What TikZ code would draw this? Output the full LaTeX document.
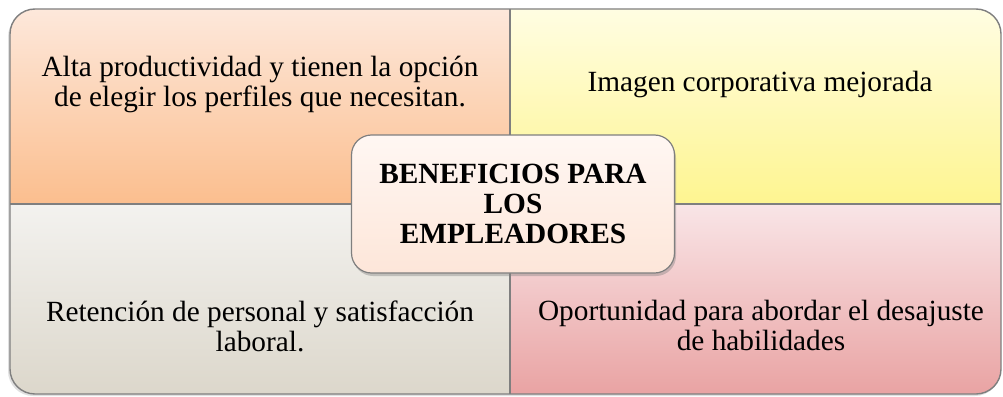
\documentclass[tikz,border=0pt]{standalone}
\usepackage{fontspec}
\setmainfont{Liberation Serif}
\usetikzlibrary{shadows}
\definecolor{tlT}{HTML}{FDE8DB}
\definecolor{tlB}{HTML}{FBBE8E}
\definecolor{trT}{HTML}{FFFDE2}
\definecolor{trB}{HTML}{FEF590}
\definecolor{blT}{HTML}{F3F2EF}
\definecolor{blB}{HTML}{DCD7CB}
\definecolor{brT}{HTML}{F9E5E7}
\definecolor{brB}{HTML}{E9A3A3}
\definecolor{hubT}{HTML}{FFF7F3}
\definecolor{hubB}{HTML}{FDE6D9}
\definecolor{edge}{HTML}{7F7F7F}
\begin{document}
\begin{tikzpicture}[x=1pt,y=-1pt,
  txt/.style={font=\fontsize{29.3}{30}\selectfont, align=center, inner sep=0pt, anchor=base},
  border/.style={draw=edge, line width=1.4pt}]
\useasboundingbox (0,0) rectangle (1003,396);
% outer shadow
\fill[black, opacity=0.12, rounded corners=25pt] (8,12) rectangle (1000,396);
\begin{scope}
  \clip[rounded corners=25pt] (10,9) rectangle (1001,394);
  \shade[top color=tlT, bottom color=tlB] (10,9) rectangle (510,204);
  \shade[top color=trT, bottom color=trB] (510,9) rectangle (1001,204);
  \shade[top color=blT, bottom color=blB] (10,204) rectangle (510,394);
  \shade[top color=brT, bottom color=brB] (510,204) rectangle (1001,394);
\end{scope}
\draw[border, rounded corners=25pt] (10,9) rectangle (1001,394);
\draw[border] (510,9) -- (510,394);
\draw[border] (10,204) -- (1001,204);
% quadrant texts (anchor = baseline of last line)
\node[txt] (q1) at (260,106) {Alta productividad y tienen la opción\\de elegir los perfiles que necesitan.};
\node[txt] (q2) at (760,92) {Imagen corporativa mejorada};
\node[txt] (q3) at (260,351) {Retención de personal y satisfacción\\laboral.};
\node[txt] (q4) at (761,350) {Oportunidad para abordar el desajuste\\de habilidades};
% hub
\node[draw=edge, line width=1.2pt, rounded corners=20pt, minimum width=323pt, minimum height=138pt,
      top color=hubT, bottom color=hubB,
      drop shadow={opacity=0.4, shadow xshift=1.5pt, shadow yshift=-3pt},
      font=\fontsize{29.3}{30}\selectfont\bfseries, align=center, inner sep=0pt]
      (hub) at (513,204) {BENEFICIOS PARA\\LOS\\EMPLEADORES};
\end{tikzpicture}
\end{document}
